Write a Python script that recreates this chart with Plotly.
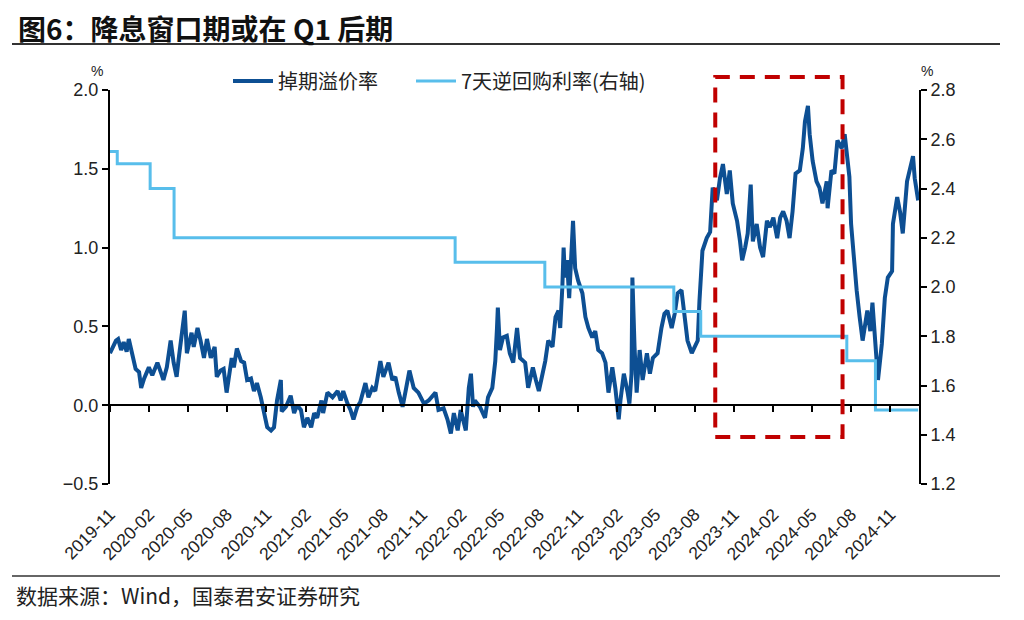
import plotly.graph_objects as go

# ---- data ----
swap_dates = [
    "2019-11-01","2019-11-15","2019-11-20","2019-11-27","2019-12-03","2019-12-10","2019-12-15","2019-12-22","2019-12-31",
    "2020-01-08","2020-01-13","2020-01-20","2020-01-31","2020-02-08","2020-02-20","2020-02-29","2020-03-05","2020-03-13",
    "2020-03-22","2020-03-29","2020-04-05","2020-04-10","2020-04-17","2020-04-24","2020-04-29","2020-05-10","2020-05-15",
    "2020-05-24","2020-05-31","2020-06-08","2020-06-15","2020-06-24","2020-07-03","2020-07-08","2020-07-17","2020-07-24",
    "2020-07-31","2020-08-12","2020-08-17","2020-08-24","2020-09-03","2020-09-10","2020-09-17","2020-09-26","2020-10-03",
    "2020-10-10","2020-10-19","2020-10-26","2020-11-03","2020-11-12","2020-11-19","2020-11-26","2020-12-05","2020-12-07",
    "2020-12-17","2020-12-28","2021-01-05","2021-01-12","2021-01-21","2021-01-28","2021-02-05","2021-02-14","2021-02-21",
    "2021-02-28","2021-03-10","2021-03-14","2021-03-24","2021-04-05","2021-04-17","2021-04-24","2021-04-30","2021-05-10",
    "2021-05-17","2021-05-24","2021-06-02","2021-06-09","2021-06-21","2021-06-28","2021-07-07","2021-07-14","2021-07-26",
    "2021-08-02","2021-08-14","2021-08-23","2021-08-30","2021-09-07","2021-09-16","2021-09-23","2021-10-02","2021-10-12",
    "2021-10-23","2021-11-05","2021-11-16","2021-12-02","2021-12-09","2021-12-21","2021-12-30","2022-01-07","2022-01-14",
    "2022-01-23","2022-01-30","2022-02-11","2022-02-18","2022-02-23","2022-02-28","2022-03-04","2022-03-16","2022-03-28",
    "2022-04-04","2022-04-14","2022-04-21","2022-04-25","2022-04-27","2022-05-02","2022-05-09","2022-05-18","2022-05-25",
    "2022-06-02","2022-06-11","2022-06-18","2022-06-30","2022-07-07","2022-07-18","2022-07-25","2022-08-01","2022-08-16",
    "2022-08-23","2022-09-02","2022-09-09","2022-09-16","2022-09-20","2022-09-25","2022-09-28","2022-10-01","2022-10-06",
    "2022-10-11","2022-10-18","2022-10-20","2022-10-25","2022-11-01","2022-11-11","2022-11-18","2022-11-25","2022-12-04",
    "2022-12-11","2022-12-18","2022-12-27","2023-01-04","2023-01-11","2023-01-20","2023-01-27","2023-02-04","2023-02-08",
    "2023-02-16","2023-02-25","2023-03-01","2023-03-06","2023-03-08","2023-03-13","2023-03-18","2023-03-25","2023-04-01",
    "2023-04-11","2023-04-18","2023-04-25","2023-05-06","2023-05-15","2023-05-22","2023-05-29","2023-06-08","2023-06-15",
    "2023-06-22","2023-07-01","2023-07-08","2023-07-15","2023-07-25","2023-08-01","2023-08-08","2023-08-12","2023-08-19",
    "2023-08-29","2023-09-06","2023-09-12","2023-09-22","2023-09-29","2023-10-06","2023-10-15","2023-10-22","2023-10-29",
    "2023-11-08","2023-11-15","2023-11-20","2023-11-27","2023-12-03","2023-12-10","2023-12-15","2023-12-24","2024-01-01",
    "2024-01-08","2024-01-17","2024-01-24","2024-02-01","2024-02-10","2024-02-17","2024-02-24","2024-03-03","2024-03-10",
    "2024-03-17","2024-03-24","2024-04-03","2024-04-10","2024-04-15","2024-04-22","2024-04-26","2024-05-03","2024-05-12",
    "2024-05-19","2024-05-26","2024-06-05","2024-06-07","2024-06-16","2024-06-23","2024-06-30","2024-07-10","2024-07-17",
    "2024-07-24","2024-07-28","2024-08-01","2024-08-10","2024-08-14","2024-08-21","2024-08-28","2024-09-08","2024-09-15",
    "2024-09-20","2024-09-27","2024-10-03","2024-10-12","2024-10-19","2024-10-26","2024-11-05","2024-11-07","2024-11-17",
    "2024-11-24","2024-11-30","2024-12-10","2024-12-17","2024-12-24","2024-12-28","2025-01-05",
]
swap_premium = [
    0.33,0.41,0.42,0.35,0.40,0.34,0.42,0.34,0.23,
    0.21,0.11,0.17,0.24,0.19,0.27,0.20,0.16,0.24,
    0.41,0.27,0.18,0.30,0.47,0.60,0.33,0.46,0.37,
    0.49,0.41,0.30,0.42,0.30,0.37,0.18,0.22,0.23,
    0.08,0.30,0.24,0.36,0.28,0.27,0.16,0.17,0.09,
    0.14,0.05,-0.03,-0.14,-0.16,-0.14,0.03,0.16,-0.04,
    -0.01,0.06,-0.05,0.00,-0.03,-0.14,-0.08,-0.14,-0.05,
    -0.08,0.03,-0.05,0.08,0.05,0.09,0.03,0.09,0.01,
    -0.03,-0.09,-0.01,0.02,0.14,0.05,0.11,0.09,0.28,
    0.18,0.27,0.16,0.18,0.08,-0.01,0.09,0.22,0.11,
    0.08,0.01,0.03,0.08,-0.03,-0.02,-0.09,-0.18,-0.05,
    -0.16,-0.03,-0.16,0.11,0.20,-0.01,0.03,-0.01,-0.08,
    0.05,0.11,0.28,0.49,0.62,0.35,0.43,0.44,0.33,
    0.27,0.49,0.30,0.27,0.11,0.24,0.16,0.09,0.28,
    0.41,0.37,0.56,0.60,0.49,0.75,1.00,0.81,0.92,
    0.68,1.04,1.17,0.87,0.79,0.71,0.56,0.49,0.43,
    0.47,0.35,0.33,0.27,0.08,0.24,0.11,-0.09,0.03,
    0.20,0.08,0.01,0.20,0.81,0.37,0.08,0.35,0.16,
    0.33,0.20,0.30,0.33,0.49,0.58,0.60,0.49,0.58,
    0.71,0.73,0.58,0.41,0.33,0.37,0.41,0.66,0.98,
    1.06,1.10,1.38,1.30,1.44,1.53,1.34,1.49,1.28,
    1.17,1.04,0.92,1.00,1.09,1.40,1.04,1.15,1.00,
    0.94,1.17,1.13,1.19,1.06,1.19,1.23,1.17,1.06,
    1.23,1.47,1.49,1.63,1.80,1.90,1.72,1.55,1.42,
    1.38,1.28,1.42,1.25,1.49,1.47,1.68,1.63,1.72,
    1.57,1.45,1.15,0.84,0.73,0.56,0.41,0.60,0.47,
    0.65,0.39,0.16,0.39,0.68,0.81,0.85,1.15,1.32,
    1.22,1.09,1.42,1.49,1.58,1.44,1.30,
]

repo_dates = ["2019-11-01","2019-11-18","2020-02-03","2020-03-30","2022-01-17",
              "2022-08-15","2023-06-13","2023-08-15","2024-07-22","2024-09-27","2025-01-05"]
repo_rate = [2.55, 2.50, 2.40, 2.20, 2.10, 2.00, 1.90, 1.80, 1.70, 1.50, 1.50]

box_start, box_end = "2023-09-18", "2024-07-12"
x_start, x_end = "2019-11-01", "2025-01-07"

title_text = "图6：降息窗口期或在 Q1 后期"
source_text = "数据来源：Wind，国泰君安证券研究"
name_swap = "掉期溢价率"
name_repo = "7天逆回购利率(右轴)"

# ---- styles ----
DARK = "#0D4F93"
LIGHT = "#58BEEB"
RED = "#C00000"
CJK = "Noto Sans CJK SC"
NUM = "Liberation Sans"

fig = go.Figure()
fig.add_trace(go.Scatter(x=swap_dates, y=swap_premium, name=name_swap, mode="lines",
                         line=dict(color=DARK, width=4), xaxis="x", yaxis="y",
                         legend="legend"))
fig.add_trace(go.Scatter(x=repo_dates, y=repo_rate, name=name_repo, mode="lines",
                         line=dict(color=LIGHT, width=3, shape="hv"), xaxis="x", yaxis="y2",
                         legend="legend2"))
# helper trace so that the zero-line axis (ticks at y=0) is drawn
fig.add_trace(go.Scatter(x=[x_start], y=[None], xaxis="x2", yaxis="y",
                         showlegend=False, hoverinfo="skip", mode="lines"))

W, H = 1024, 620
ml, mr, mt, mb = 110, 105, 90, 136
pw, ph = W - ml - mr, H - mt - mb
def px(xp):  # paper x from pixel
    return (xp - ml) / pw
def py(yp):  # paper y from pixel
    return (H - mb - yp) / ph

y_min, y_max = -0.5, 2.0
zero_pos = (0 - y_min) / (y_max - y_min)

legend_style = dict(orientation="h", y=py(81), xanchor="left", yanchor="middle",
                    font=dict(family=CJK, size=20, color="#222"),
                    bgcolor="rgba(0,0,0,0)", itemwidth=40)

fig.update_layout(
    width=W, height=H,
    margin=dict(l=ml, r=mr, t=mt, b=mb),
    paper_bgcolor="white", plot_bgcolor="white",
    showlegend=True,
    legend=dict(x=px(228), **legend_style),
    legend2=dict(x=px(411), **legend_style),
    xaxis=dict(type="date", range=[x_start, x_end], showline=False, ticks="",
               showgrid=False, zeroline=False, tick0="2019-11-01", dtick="M3",
               tickformat="%Y-%m", tickangle=-45, ticklabelstandoff=16,
               tickfont=dict(family=NUM, size=17.5, color="#222")),
    xaxis2=dict(type="date", matches="x", overlaying="x", anchor="free", position=zero_pos,
                showline=True, linecolor="black", linewidth=2, ticks="outside", ticklen=6,
                tickwidth=2, tickcolor="black", showticklabels=False, showgrid=False,
                zeroline=False, tick0="2019-11-01", dtick="M3"),
    yaxis=dict(range=[y_min, y_max], dtick=0.5, tickformat=".1f", showline=True,
               linecolor="black", linewidth=2, ticks="outside", ticklen=6, tickwidth=2,
               tickcolor="black", showgrid=False, zeroline=False,
               tickfont=dict(family=NUM, size=18, color="#222")),
    yaxis2=dict(range=[1.2, 2.8], dtick=0.2, tickformat=".1f", overlaying="y", side="right",
                showline=True, linecolor="black", linewidth=2, ticks="outside", ticklen=6,
                tickwidth=2, tickcolor="black", showgrid=False, zeroline=False,
                tickfont=dict(family=NUM, size=18, color="#222")),
)

# red dashed box
fig.add_shape(type="rect", xref="x", yref="paper", x0=box_start, x1=box_end,
              y0=py(437), y1=py(77), line=dict(color=RED, width=4, dash="15px,10px"),
              fillcolor="rgba(0,0,0,0)")
# header / footer rules
fig.add_shape(type="line", xref="paper", yref="paper", x0=px(12), x1=px(1000),
              y0=py(44), y1=py(44), line=dict(color="#333", width=2))
fig.add_shape(type="line", xref="paper", yref="paper", x0=px(12), x1=px(1000),
              y0=py(576), y1=py(576), line=dict(color="#333", width=1.5))

fig.add_annotation(text=title_text, xref="paper", yref="paper", x=px(16), y=py(28),
                   xanchor="left", yanchor="middle", showarrow=False,
                   font=dict(family=CJK, size=28, color="#111", weight="bold"))
fig.add_annotation(text=source_text, xref="paper", yref="paper", x=px(14), y=py(595),
                   xanchor="left", yanchor="middle", showarrow=False,
                   font=dict(family=CJK, size=21, color="#222"))
fig.add_annotation(text="%", xref="paper", yref="paper", x=px(97), y=py(71),
                   xanchor="center", yanchor="middle", showarrow=False,
                   font=dict(family=NUM, size=14, color="#222"))
fig.add_annotation(text="%", xref="paper", yref="paper", x=px(927), y=py(71),
                   xanchor="center", yanchor="middle", showarrow=False,
                   font=dict(family=NUM, size=14, color="#222"))

fig.write_html("out.html", post_script="document.body.style.margin='0';",
               config={"displayModeBar": False})
